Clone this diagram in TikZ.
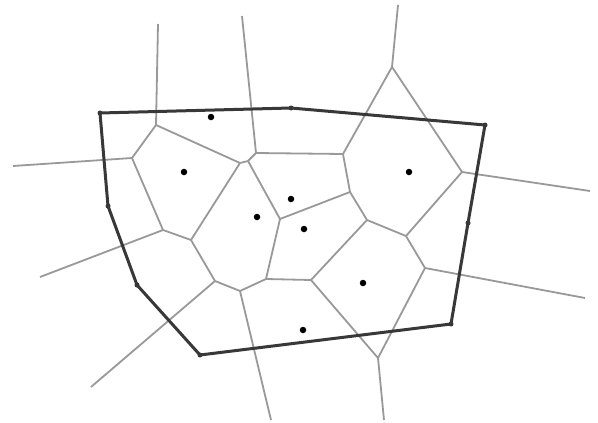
\documentclass[tikz,border=0pt]{standalone}
\usetikzlibrary{calc}
\begin{document}
\begin{tikzpicture}[x=1pt,y=-1pt,
  vedge/.style={draw=black!40,line width=1.8pt},
  hull/.style={draw=black!78,line width=3pt,line join=round},
  site/.style={circle,fill=black,inner sep=0pt,minimum size=6.5pt},
  hsite/.style={circle,fill=black!78,inner sep=0pt,minimum size=5pt}]
\useasboundingbox (0,0) rectangle (598,423);
\fill[white] (0,0) rectangle (598,423);
% Voronoi vertices
\coordinate (V1) at (156,125);
\coordinate (R) at (132,158);
\coordinate (A) at (240,163);
\coordinate (A2) at (248,161);
\coordinate (B) at (256,153);
\coordinate (P) at (163,230);
\coordinate (Q) at (191,240);
\coordinate (C) at (280,219);
\coordinate (D) at (350,192);
\coordinate (E) at (343,154);
\coordinate (F) at (367,220);
\coordinate (G) at (406,236);
\coordinate (H) at (462,172);
\coordinate (I) at (425,268);
\coordinate (K) at (378,358);
\coordinate (J) at (311,280);
\coordinate (N) at (266,279);
\coordinate (M) at (240,291);
\coordinate (L) at (215,281);
\coordinate (T) at (392,67);
% ray ends
\coordinate (r1) at (158,24);
\coordinate (r2) at (242,16);
\coordinate (r3) at (398,5);
\coordinate (r4) at (13,166);
\coordinate (r5) at (40,277);
\coordinate (r6) at (91,387);
\coordinate (r7) at (271,420);
\coordinate (r8) at (384,420);
\coordinate (r9) at (585,298);
\coordinate (r10) at (590,191);
% Voronoi edges
\path[vedge] (r1) -- (V1) (V1) -- (R) (V1) -- (A) (r4) -- (R) (R) -- (P)
  (P) -- (r5) (P) -- (Q) (Q) -- (A) (A) -- (A2) (A2) -- (B) (B) -- (r2)
  (B) -- (E) (A2) -- (C) (C) -- (D) (C) -- (N) (D) -- (E) (D) -- (F)
  (E) -- (T) (T) -- (r3) (T) -- (H) (H) -- (r10) (H) -- (G) (G) -- (F)
  (G) -- (I) (I) -- (r9) (I) -- (K) (K) -- (r8) (K) -- (J) (J) -- (F)
  (J) -- (N) (N) -- (M) (M) -- (L) (M) -- (r7) (L) -- (Q) (L) -- (r6);
% convex hull
\node[hsite] (h1) at (100,113) {};
\node[hsite] (h2) at (291,108) {};
\node[hsite] (h3) at (485,125) {};
\node[hsite] (h4) at (468,223) {};
\node[hsite] (h5) at (451,324) {};
\node[hsite] (h6) at (200,355) {};
\node[hsite] (h7) at (137,285) {};
\node[hsite] (h8) at (108,206) {};
\path[hull] (h1.center) -- (h2.center) -- (h3.center) -- (h4.center) -- (h5.center)
  -- (h6.center) -- (h7.center) -- (h8.center) -- cycle;
% interior sites
\node[site] (s1) at (211,117) {};
\node[site] (s2) at (184,172) {};
\node[site] (s3) at (409,172) {};
\node[site] (s4) at (291,199) {};
\node[site] (s5) at (257,217) {};
\node[site] (s6) at (304,229) {};
\node[site] (s7) at (363,283) {};
\node[site] (s8) at (303,330) {};
\end{tikzpicture}
\end{document}
